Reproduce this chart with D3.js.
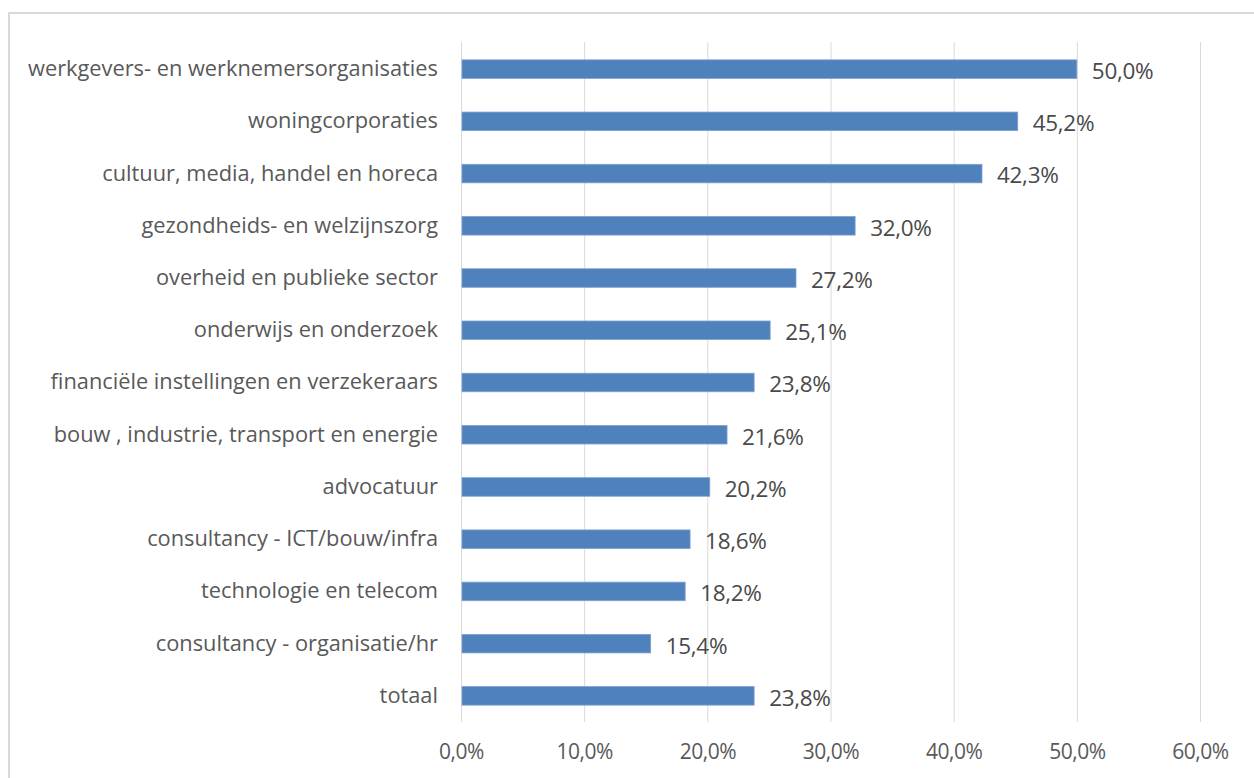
<!DOCTYPE html>
<html>
<head>
<meta charset="utf-8">
<script src="https://cdn.jsdelivr.net/npm/d3@7"></script>
<style>
  body { margin: 0; background: #fff; }
  svg text { font-family: "Open Sans", "Noto Sans", sans-serif; fill: #595959; }
</style>
</head>
<body>
<svg id="chart" width="1254" height="778"></svg>
<script>
// Data
var categories = [
    "werkgevers- en werknemersorganisaties",
    "woningcorporaties",
    "cultuur, media, handel en horeca",
    "gezondheids- en welzijnszorg",
    "overheid en publieke sector",
    "onderwijs en onderzoek",
    "financiële instellingen en verzekeraars",
    "bouw , industrie, transport en energie",
    "advocatuur",
    "consultancy - ICT/bouw/infra",
    "technologie en telecom",
    "consultancy - organisatie/hr",
    "totaal"
];
var values = [50.0, 45.2, 42.3, 32.0, 27.2, 25.1, 23.8, 21.6, 20.2, 18.6, 18.2, 15.4, 23.8];
var tickValues = [0, 10, 20, 30, 40, 50, 60];

var width = 1254,
    height = 778;

var svg = d3.select("#chart");

// chart frame (cut off at right and bottom)
svg.append("rect")
    .attr("x", 9)
    .attr("y", 13)
    .attr("width", 1260)
    .attr("height", 800)
    .attr("fill", "none")
    .attr("stroke", "#d9d9d9")
    .attr("stroke-width", 2);

// Scales
var x = d3.scaleLinear()
    .domain([0, 60])
    .range([461, 1200]);

var y = d3.scaleBand()
    .domain(categories)
    .range([43, 722])
    .paddingInner(0.645)
    .paddingOuter(0.3225);

var fmt = function(v) { return d3.format(".1f")(v).replace(".", ",") + "%"; };

// Gridlines
svg.append("g")
    .selectAll("line")
    .data(tickValues)
    .enter()
    .append("line")
    .attr("x1", function(d) { return x(d) + 0.5; })
    .attr("x2", function(d) { return x(d) + 0.5; })
    .attr("y1", 42)
    .attr("y2", 722)
    .attr("stroke", "#d9d9d9")
    .attr("stroke-width", 1);

// X axis tick labels
var xAxis = d3.axisBottom(x)
    .tickValues(tickValues)
    .tickSize(0)
    .tickPadding(0)
    .tickFormat(fmt);

var gx = svg.append("g")
    .attr("transform", "translate(0,752)")
    .call(xAxis);
gx.select(".domain").remove();
gx.selectAll("text")
    .attr("dy", "0.35em")
    .style("font-size", "21px")
    .style("font-family", null)
    .style("letter-spacing", "-0.5px");

// Bars
svg.append("g")
    .selectAll("rect")
    .data(values)
    .enter()
    .append("rect")
    .attr("x", x(0) + 1)
    .attr("y", function(d, i) { return y(categories[i]); })
    .attr("width", function(d) { return x(d) - x(0) - 1; })
    .attr("height", y.bandwidth())
    .attr("fill", "#4f81bd")
    .attr("stroke", "#7ea1d0")
    .attr("stroke-width", 0.8);

// Value labels
svg.append("g")
    .selectAll("text")
    .data(values)
    .enter()
    .append("text")
    .attr("x", function(d) { return x(d) + 15; })
    .attr("y", function(d, i) { return y(categories[i]) + y.bandwidth() / 2 + 2; })
    .attr("dy", "0.35em")
    .style("font-size", "22.5px")
    .style("fill", "#4a4a4a")
    .style("letter-spacing", "-0.3px")
    .text(fmt);

// Category labels
var yAxis = d3.axisLeft(y)
    .tickSize(0)
    .tickPadding(23);

var gy = svg.append("g")
    .attr("transform", "translate(461,0)")
    .call(yAxis);
gy.select(".domain").remove();
gy.selectAll("text")
    .style("font-size", "21.8px")
    .style("font-family", null);
</script>
</body>
</html>
